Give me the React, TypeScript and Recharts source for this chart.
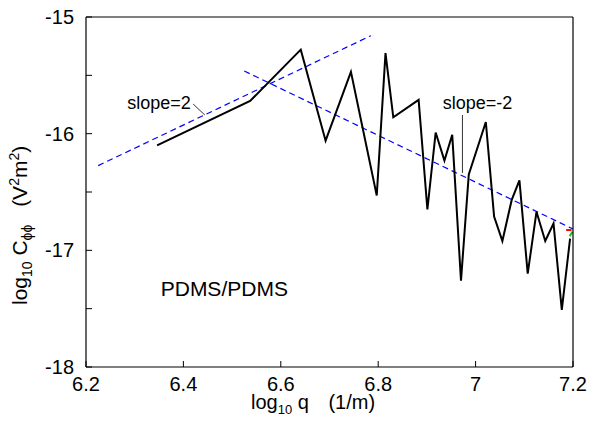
import React from 'react'
import { LineChart, Line, XAxis, YAxis, ReferenceLine, ReferenceDot, Label } from 'recharts'

// log10 q (1/m) and log10 C values of the measured spectrum
const qMain = [6.346, 6.537, 6.641, 6.692, 6.744, 6.797, 6.815, 6.831, 6.883, 6.901, 6.918, 6.936, 6.952, 6.970, 6.986, 7.021, 7.038, 7.055, 7.074, 7.090, 7.107, 7.125, 7.143, 7.160, 7.177, 7.194]
const cMain = [-16.10, -15.72, -15.28, -16.06, -15.47, -16.53, -15.31, -15.86, -15.71, -16.65, -15.99, -16.23, -16.01, -17.26, -16.35, -15.90, -16.71, -16.92, -16.57, -16.40, -17.20, -16.67, -16.92, -16.77, -17.51, -16.90]

// guide lines
const qSlopeUp = [6.225, 6.785]
const cSlopeUp = [-16.274, -15.16]
const qSlopeDown = [6.525, 7.2]
const cSlopeDown = [-15.463, -16.817]

// tiny coloured stubs at the right edge
const qRed = [7.186, 7.197]
const cRed = [-16.826, -16.826]
const qGreen = [7.193, 7.199]
const cGreen = [-16.88, -16.84]

const xTicks = [6.2, 6.4, 6.6, 6.8, 7, 7.2]
const yTicks = [-18, -17.5, -17, -16.5, -16, -15.5, -15]

const FONT = '"Liberation Sans", Arial, Helvetica, sans-serif'

const toPts = (xs: number[], ys: number[]) => xs.map((x, i) => ({ q: x, c: ys[i] }))

const XLabel = (props: any) => {
  const vb = props.viewBox
  return (
    <text x={vb.x + 165} y={vb.y + 42} fontFamily={FONT} fontSize={20} fill="#000">
      <tspan>log</tspan>
      <tspan fontSize={13} dy={5}>10</tspan>
      <tspan dy={-5}> q</tspan>
      <tspan dx={14}>  (1/m)</tspan>
    </text>
  )
}

const YLabel = () => {
  const x = 27
  const y = 305
  return (
    <text x={x} y={y} transform={`rotate(-90, ${x}, ${y})`} fontFamily={FONT} fontSize={21} fill="#000">
      <tspan>log</tspan>
      <tspan fontSize={14} dy={5}>10</tspan>
      <tspan dy={-5}> C</tspan>
      <tspan fontSize={14} dy={5}>ϕϕ</tspan>
      <tspan dy={-5} dx={12}>  (V</tspan>
      <tspan fontSize={14} dy={-8}>2</tspan>
      <tspan dy={8}>m</tspan>
      <tspan fontSize={14} dy={-8}>2</tspan>
      <tspan dy={8}>)</tspan>
    </text>
  )
}

export default function App() {
  const tickStyle = { fontSize: 20, fill: '#000', fontFamily: FONT }
  return (
    <div style={{ position: 'absolute', left: 0, top: 0, background: '#fff' }}>
      <LineChart width={594} height={428} margin={{ top: 16, right: 20, bottom: 0, left: 0 }}>
        <XAxis
          dataKey="q" type="number" domain={[6.2, 7.2]} ticks={xTicks} height={61}
          tickSize={-6} tickMargin={16} tick={tickStyle}
          axisLine={{ stroke: '#000', strokeWidth: 1.2 }} tickLine={{ stroke: '#000' }}
          allowDataOverflow
        >
          <Label content={<XLabel />} />
        </XAxis>
        <XAxis
          xAxisId="top" orientation="top" dataKey="q" type="number" domain={[6.2, 7.2]} ticks={xTicks}
          height={1} tickSize={-6} tick={false}
          axisLine={{ stroke: '#000', strokeWidth: 1.2 }} tickLine={{ stroke: '#000' }}
          allowDataOverflow
        />
        <YAxis
          type="number" domain={[-18, -15]} ticks={yTicks} width={86}
          tickSize={-6} tickMargin={18} tick={tickStyle}
          tickFormatter={(v: number) => (Number.isInteger(v) ? String(v) : '')}
          axisLine={{ stroke: '#000', strokeWidth: 1.2 }} tickLine={{ stroke: '#000' }}
          allowDataOverflow
        >
          <Label content={<YLabel />} />
        </YAxis>
        <YAxis
          yAxisId="r" orientation="right" type="number" domain={[-18, -15]} ticks={yTicks} width={1}
          tickSize={-6} tick={false}
          axisLine={{ stroke: '#000', strokeWidth: 1.2 }} tickLine={{ stroke: '#000' }}
          allowDataOverflow
        />

        <Line data={toPts(qSlopeUp, cSlopeUp)} dataKey="c" stroke="#0000ff" strokeWidth={1.2}
          strokeDasharray="6 4" dot={false} isAnimationActive={false} />
        <Line data={toPts(qSlopeDown, cSlopeDown)} dataKey="c" stroke="#0000ff" strokeWidth={1.2}
          strokeDasharray="6 4" dot={false} isAnimationActive={false} />
        <Line data={toPts(qMain, cMain)} dataKey="c" stroke="#000" strokeWidth={2} type="linear"
          dot={false} isAnimationActive={false} />
        <Line data={toPts(qRed, cRed)} dataKey="c" stroke="#ff0000" strokeWidth={2}
          dot={false} isAnimationActive={false} />
        <Line data={toPts(qGreen, cGreen)} dataKey="c" stroke="#00cc00" strokeWidth={2}
          dot={false} isAnimationActive={false} />

        <ReferenceLine segment={[{ x: 6.42, y: -15.746 }, { x: 6.444, y: -15.84 }]} stroke="#000" strokeWidth={0.8} />
        <ReferenceLine segment={[{ x: 6.973, y: -15.84 }, { x: 6.973, y: -16.337 }]} stroke="#000" strokeWidth={0.8} />

        <ReferenceDot x={6.35} y={-15.737} r={1} fill="none" stroke="none"
          label={{ value: 'slope=2', position: 'center', fontSize: 18, fill: '#000', fontFamily: FONT }} />
        <ReferenceDot x={7.004} y={-15.73} r={1} fill="none" stroke="none"
          label={{ value: 'slope=-2', position: 'center', fontSize: 18, fill: '#000', fontFamily: FONT }} />
        <ReferenceDot x={6.484} y={-17.331} r={1} fill="none" stroke="none"
          label={{ value: 'PDMS/PDMS', position: 'center', fontSize: 21, fill: '#000', fontFamily: FONT }} />
      </LineChart>
    </div>
  )
}
